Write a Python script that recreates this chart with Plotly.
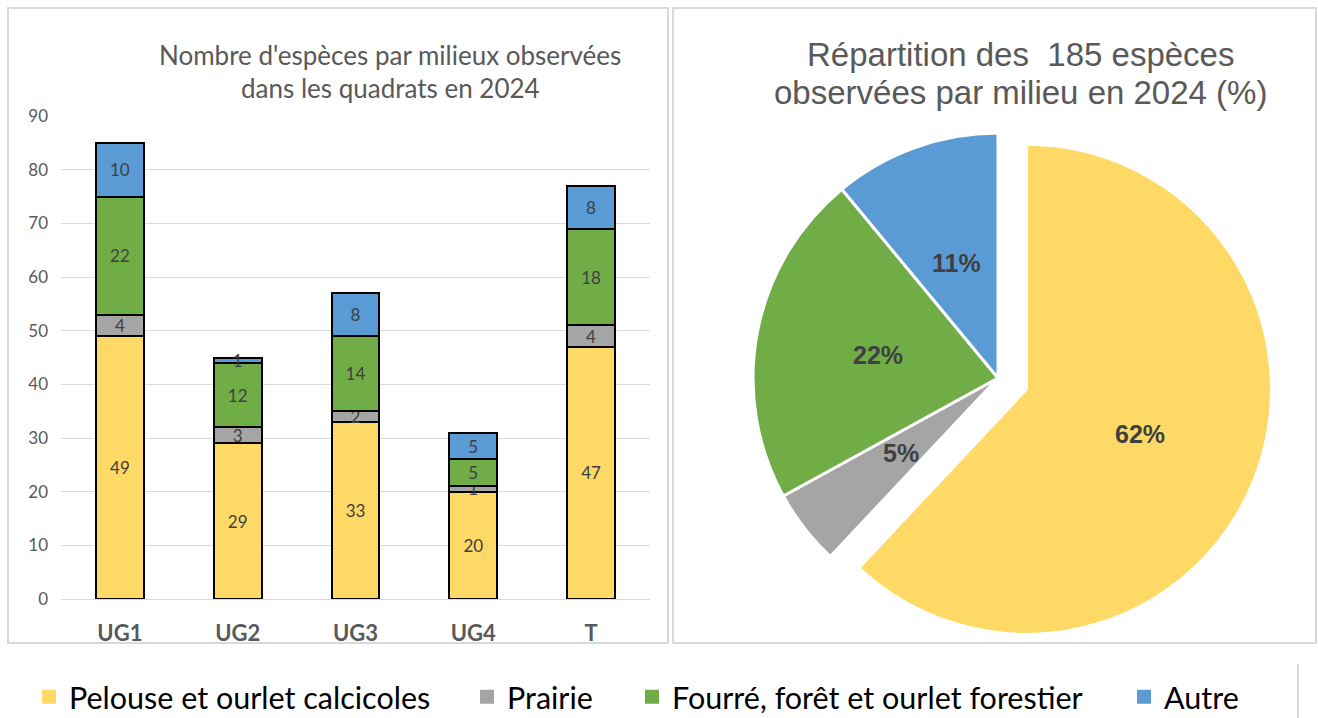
import math
import plotly.graph_objects as go

# ---------------- data ----------------
categories = ["UG1", "UG2", "UG3", "UG4", "T"]
pelouse = [49, 29, 33, 20, 47]
prairie = [4, 3, 2, 1, 4]
fourre = [22, 12, 14, 5, 18]
autre = [10, 1, 8, 5, 8]
series_names = ["Pelouse et ourlet calcicoles", "Prairie",
                "Fourré, forêt et ourlet forestier", "Autre"]
pie_pct = [62, 5, 22, 11]
pie_pull = [0.125, 0, 0, 0]
y_ticks = [0, 10, 20, 30, 40, 50, 60, 70, 80, 90]

bar_title = ["Nombre d'espèces par milieux observées", "dans les quadrats en 2024"]
pie_title = ["Répartition des\u00a0 185 espèces", "observées par milieu en 2024 (%)"]

colors = ["#FFD966", "#A5A5A5", "#70AD47", "#5B9BD5"]

# ---------------- helpers ----------------
W, H = 1318, 718
def px(x):
    return x / W
def py(y):
    return 1 - y / H

CAL = "Lato, Carlito, sans-serif"
ARIAL = "Liberation Sans, Arial, sans-serif"

fig = go.Figure()

for name, vals, col in zip(series_names, [pelouse, prairie, fourre, autre], colors):
    fig.add_trace(go.Bar(
        x=categories, y=vals, name=name,
        marker=dict(color=col, line=dict(color="black", width=2)),
        text=vals, textposition="inside", insidetextanchor="middle",
        constraintext="none", textangle=0,
        textfont=dict(family=CAL, size=17, color="#404040"),
        showlegend=False, hoverinfo="skip",
    ))

# pie geometry (domain is a square box around the centre)
pie_cx, pie_cy, pie_box = 998.0, 378.0, 551.2
fig.add_trace(go.Pie(
    labels=series_names, values=pie_pct, sort=False,
    direction="clockwise", rotation=0,
    pull=pie_pull,
    marker=dict(colors=colors, line=dict(color="white", width=3)),
    textinfo="none",
    domain=dict(x=[px(pie_cx - pie_box / 2), px(pie_cx + pie_box / 2)],
                y=[py(pie_cy + pie_box / 2), py(pie_cy - pie_box / 2)]),
    showlegend=False, hoverinfo="skip",
))

# legend proxies (one legend per item for exact placement)
legend_ids = ["legend", "legend2", "legend3", "legend4"]
for name, col, lid in zip(series_names, colors, legend_ids):
    fig.add_trace(go.Scatter(
        x=[None], y=[None], mode="markers", name=name,
        marker=dict(symbol="square", size=14, color=col),
        legend=lid, showlegend=True, hoverinfo="skip",
    ))

sym_centers = [49, 487, 652, 1144]
leg_common = dict(yanchor="middle", xanchor="left", y=py(697),
                  font=dict(family=CAL, size=30.5, color="black"),
                  bgcolor="rgba(0,0,0,0)", borderwidth=0,
                  itemclick=False, itemdoubleclick=False)
legend_layout = {}
for lid, cx in zip(legend_ids, sym_centers):
    legend_layout[lid] = dict(x=px(cx - 20), **leg_common)

annotations = []
for txt, yc in zip(bar_title, [55, 88]):
    annotations.append(dict(text=txt, x=px(390), y=py(yc), xref="paper", yref="paper",
                            xanchor="center", yanchor="middle", showarrow=False,
                            font=dict(family=CAL, size=26, color="#595959")))
for txt, yc in zip(pie_title, [55, 92]):
    annotations.append(dict(text=txt, x=px(1020), y=py(yc), xref="paper", yref="paper",
                            xanchor="center", yanchor="middle", showarrow=False,
                            font=dict(family=ARIAL, size=33, color="#595959")))

# percentage labels at half radius along each slice's mid-angle (derived from pie_pct)
pie_r = pie_box / (2 * (1 + max(pie_pull)))
total = sum(pie_pct)
cum = 0.0
for pct, pull in zip(pie_pct, pie_pull):
    mid = math.radians((cum + pct / 2) / total * 360)
    cum += pct
    dx, dy = math.sin(mid), -math.cos(mid)
    ox = pie_cx + dx * pie_r * pull
    oy = pie_cy + dy * pie_r * pull
    lx = ox + dx * pie_r * 0.5
    ly = oy + dy * pie_r * 0.5
    annotations.append(dict(text=f"{pct}%", x=px(lx), y=py(ly), xref="paper", yref="paper",
                            xanchor="center", yanchor="middle", showarrow=False,
                            font=dict(family=ARIAL, size=25, color="#404040", weight="bold")))

shapes = [
    dict(type="rect", xref="paper", yref="paper", x0=px(8), x1=px(668), y0=py(643), y1=py(8),
         line=dict(color="#D9D9D9", width=2), layer="below"),
    dict(type="rect", xref="paper", yref="paper", x0=px(673), x1=px(1316), y0=py(643), y1=py(8),
         line=dict(color="#D9D9D9", width=2), layer="below"),
    dict(type="line", xref="paper", yref="paper", x0=px(1298), x1=px(1298), y0=py(718), y1=py(664),
         line=dict(color="#D9D9D9", width=2)),
]

fig.update_layout(
    width=W, height=H,
    margin=dict(l=0, r=0, t=0, b=0, autoexpand=False),
    paper_bgcolor="white", plot_bgcolor="white",
    barmode="stack", bargap=0.593,
    hovermode=False,
    annotations=annotations, shapes=shapes,
    xaxis=dict(domain=[px(61), px(650)], type="category",
               tickfont=dict(family=CAL, size=22, color="#595959", weight="bold"),
               ticks="", showgrid=False, showline=False, zeroline=False,
               ticklabelstandoff=19, fixedrange=True),
    yaxis=dict(domain=[py(599), py(116)], range=[0, 90], tickvals=y_ticks,
               tickfont=dict(family=CAL, size=17, color="#595959"),
               showgrid=True, gridcolor="#D9D9D9", gridwidth=1.3,
               zeroline=True, zerolinecolor="#D9D9D9", zerolinewidth=1.3,
               showline=False, ticks="", ticklabelstandoff=12, fixedrange=True),
    **legend_layout,
)

fig.write_html("out.html", config={"displayModeBar": False},
               post_script="document.body.style.margin='0px';document.body.style.overflow='hidden';")
